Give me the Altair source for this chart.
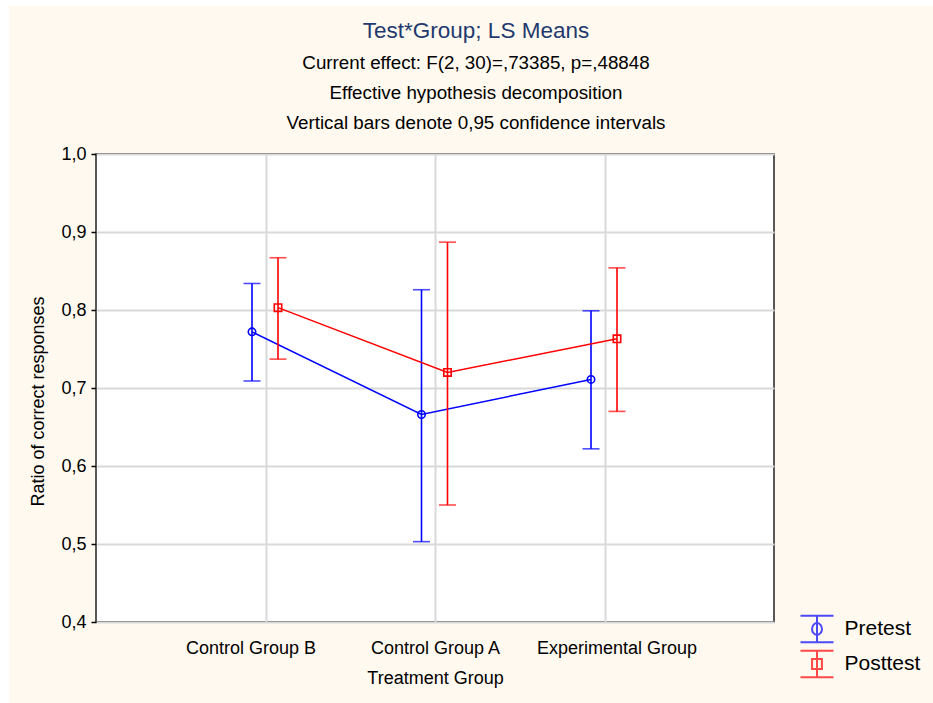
import altair as alt
import pandas as pd

# LS means and 0.95 confidence limits per treatment group
groups = ["Control Group B", "Control Group A", "Experimental Group"]
tests = ["Pretest", "Posttest"]

pre_mean = [0.772, 0.666, 0.711]
pre_lo = [0.709, 0.503, 0.622]
pre_hi = [0.834, 0.826, 0.799]

post_mean = [0.803, 0.720, 0.763]
post_lo = [0.737, 0.550, 0.670]
post_hi = [0.867, 0.887, 0.854]

y_ticks = [0.4, 0.5, 0.6, 0.7, 0.8, 0.9, 1.0]

title_text = "Test*Group; LS Means"
subtitle_lines = [
    "Current effect: F(2, 30)=,73385, p=,48848",
    "Effective hypothesis decomposition",
    "Vertical bars denote 0,95 confidence intervals",
]

rows = []
for g, m, lo, hi in zip(groups, pre_mean, pre_lo, pre_hi):
    rows.append({"Group": g, "Test": "Pretest", "mean": m, "lo": lo, "hi": hi})
for g, m, lo, hi in zip(groups, post_mean, post_lo, post_hi):
    rows.append({"Group": g, "Test": "Posttest", "mean": m, "lo": lo, "hi": hi})
df = pd.DataFrame(rows)

FONT = "Liberation Sans"
BLUE = "#0000ff"
RED = "#ff0000"
CREAM = "#fff9ef"
W, H = 678, 468

x_enc = alt.X(
    "Group:N",
    sort=groups,
    scale=alt.Scale(type="point", padding=1),
    axis=alt.Axis(
        title="Treatment Group",
        labelAngle=0,
        labelFontSize=18,
        labelColor="black",
        labelPadding=17,
        labelOffset={
            "condition": [
                {"test": "datum.value === 'Control Group B'", "value": -15},
                {"test": "datum.value === 'Experimental Group'", "value": 12},
            ],
            "value": 0,
        },
        titleFontSize=18,
        titleFontWeight="normal",
        titleColor="black",
        titlePadding=12,
        ticks=False,
        domain=False,
        grid=True,
        gridColor="#d9d9d9",
        gridWidth=2,
    ),
)

y_scale = alt.Scale(domain=[0.4, 1.0], nice=False, zero=False)
y_axis = alt.Axis(
    title="Ratio of correct responses",
    values=y_ticks,
    labelExpr="replace(format(datum.value, '.1f'), '.', ',')",
    labelFontSize=18,
    labelColor="black",
    labelPadding=5,
    tickSize=5,
    tickColor="black",
    tickWidth=1.5,
    titleFontSize=18,
    titleFontWeight="normal",
    titleColor="black",
    titlePadding=13,
    titleY=247,
    domain=False,
    grid=True,
    gridColor="#d9d9d9",
    gridWidth=2,
)

base = alt.Chart(df)


def series(test, color, shape, offset):
    sub = base.transform_filter(alt.datum.Test == test)
    line = sub.mark_line(color=color, strokeWidth=1.5, xOffset=offset).encode(
        x=x_enc, y=alt.Y("mean:Q", scale=y_scale, axis=y_axis)
    )
    bar = sub.mark_rule(color=color, strokeWidth=1.6, xOffset=offset).encode(
        x=x_enc, y="lo:Q", y2="hi:Q"
    )
    cap_lo = sub.mark_tick(color=color, size=17, thickness=1.6, xOffset=offset).encode(
        x=x_enc, y="lo:Q"
    )
    cap_hi = sub.mark_tick(color=color, size=17, thickness=1.6, xOffset=offset).encode(
        x=x_enc, y="hi:Q"
    )
    pts = sub.mark_point(
        shape=shape, color=color, filled=False, size=55, strokeWidth=1.6,
        xOffset=offset, opacity=1,
    ).encode(x=x_enc, y="mean:Q")
    return [line, bar, cap_lo, cap_hi, pts]


# legend symbols: error bar with the series marker
pre_sym = "M-1,-0.8H1M0,-0.8V0.8M-1,0.8H1M0.3,0A0.3,0.36,0,1,1,-0.3,0A0.3,0.36,0,1,1,0.3,0"
post_sym = "M-1,-0.8H1M0,-0.8V0.8M-1,0.8H1M-0.3,-0.3H0.3V0.3H-0.3Z"

legend_layer = base.transform_filter("datum.mean < 0").mark_point(
    filled=False, size=1089, strokeWidth=2
).encode(
    x=x_enc,
    y=alt.Y("mean:Q"),
    color=alt.Color(
        "Test:N",
        scale=alt.Scale(domain=tests, range=[BLUE, RED]),
        legend=alt.Legend(
            title=None,
            orient="none",
            legendX=703.5,
            legendY=457.5,
            padding=0,
            symbolSize=1089,
            symbolStrokeWidth=2,
            symbolFillColor="transparent",
            labelFontSize=21,
            labelColor="black",
            labelOffset=10,
            rowPadding=-1,
            labelFont=FONT,
        ),
    ),
    shape=alt.Shape(
        "Test:N",
        scale=alt.Scale(domain=tests, range=[pre_sym, post_sym]),
    ),
)

# white strips along the left and top edges of the page
edge_data = alt.Data(values=[{"k": 1}])
edge_left = alt.Chart(edge_data).mark_rect(color="white").encode(
    x=alt.value(-96), x2=alt.value(-87), y=alt.value(-154), y2=alt.value(H + 81)
)
edge_top = alt.Chart(edge_data).mark_rect(color="white").encode(
    x=alt.value(-96), x2=alt.value(W + 159), y=alt.value(-154), y2=alt.value(-148)
)

# chart heading: main title plus three lines of test statistics
heading = alt.Chart(alt.Data(values=[{"t": title_text}])).mark_text(
    fontSize=22.5, color="#1f3a6e", align="center", baseline="middle", font=FONT
).encode(text="t:N", x=alt.value(380), y=alt.value(-123))

sub_layers = []
for i, line_text in enumerate(subtitle_lines):
    sub_layers.append(
        alt.Chart(alt.Data(values=[{"t": line_text}])).mark_text(
            fontSize=18.8, color="black", align="center", baseline="middle", font=FONT
        ).encode(text="t:N", x=alt.value(380), y=alt.value(-91 + 30 * i))
    )

layers = (
    [edge_left, edge_top]
    + series("Pretest", BLUE, "circle", -13.5)
    + series("Posttest", RED, "square", 12.5)
    + [legend_layer, heading]
    + sub_layers
)

chart = (
    alt.layer(*layers)
    .properties(
        width=W,
        height=H,
        autosize=alt.AutoSizeParams(type="none"),
        padding={"left": 96, "top": 154, "right": 159, "bottom": 81},
        background=CREAM,
    )
    .configure(font=FONT)
    .configure_view(fill="white", stroke="#222222", strokeWidth=1.5)
)

chart.save("out.html", embed_options={"renderer": "svg", "actions": False})
